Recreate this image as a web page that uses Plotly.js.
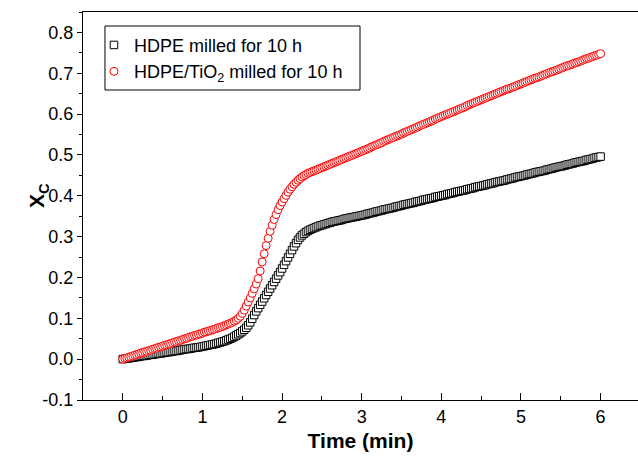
<!DOCTYPE html>
<html>
<head>
<meta charset="utf-8">
<script src="https://cdn.plot.ly/plotly-3.0.1.min.js"></script>
<style>html,body{margin:0;padding:0;background:#fff;}#chart{width:638px;height:457px;}</style>
</head>
<body>
<div id="chart"></div>
<script>
// Time (min)
var time = [
0.000,0.025,0.050,0.075,0.100,0.125,0.150,0.175,0.200,0.225,0.250,0.275,0.300,0.325,0.350,0.375,0.400,0.425,0.450,0.475,
0.500,0.525,0.550,0.575,0.600,0.625,0.650,0.675,0.700,0.725,0.750,0.775,0.800,0.825,0.850,0.875,0.900,0.925,0.950,0.975,
1.000,1.025,1.050,1.075,1.100,1.125,1.150,1.175,1.200,1.225,1.250,1.275,1.300,1.325,1.350,1.375,1.400,1.425,1.450,1.475,
1.500,1.525,1.550,1.575,1.600,1.625,1.650,1.675,1.700,1.725,1.750,1.775,1.800,1.825,1.850,1.875,1.900,1.925,1.950,1.975,
2.000,2.025,2.050,2.075,2.100,2.125,2.150,2.175,2.200,2.225,2.250,2.275,2.300,2.325,2.350,2.375,2.400,2.425,2.450,2.475,
2.500,2.525,2.550,2.575,2.600,2.625,2.650,2.675,2.700,2.725,2.750,2.775,2.800,2.825,2.850,2.875,2.900,2.925,2.950,2.975,
3.000,3.025,3.050,3.075,3.100,3.125,3.150,3.175,3.200,3.225,3.250,3.275,3.300,3.325,3.350,3.375,3.400,3.425,3.450,3.475,
3.500,3.525,3.550,3.575,3.600,3.625,3.650,3.675,3.700,3.725,3.750,3.775,3.800,3.825,3.850,3.875,3.900,3.925,3.950,3.975,
4.000,4.025,4.050,4.075,4.100,4.125,4.150,4.175,4.200,4.225,4.250,4.275,4.300,4.325,4.350,4.375,4.400,4.425,4.450,4.475,
4.500,4.525,4.550,4.575,4.600,4.625,4.650,4.675,4.700,4.725,4.750,4.775,4.800,4.825,4.850,4.875,4.900,4.925,4.950,4.975,
5.000,5.025,5.050,5.075,5.100,5.125,5.150,5.175,5.200,5.225,5.250,5.275,5.300,5.325,5.350,5.375,5.400,5.425,5.450,5.475,
5.500,5.525,5.550,5.575,5.600,5.625,5.650,5.675,5.700,5.725,5.750,5.775,5.800,5.825,5.850,5.875,5.900,5.925,5.950,5.975,
6.000];

// HDPE milled for 10 h
var hdpe = [
0.000,0.001,0.002,0.002,0.003,0.004,0.005,0.005,0.006,0.007,0.008,0.008,0.009,0.010,0.011,0.011,0.012,0.013,0.014,0.014,
0.015,0.016,0.017,0.017,0.018,0.019,0.020,0.020,0.021,0.022,0.023,0.024,0.025,0.025,0.026,0.027,0.028,0.028,0.029,0.030,
0.031,0.032,0.033,0.034,0.035,0.036,0.037,0.038,0.040,0.041,0.043,0.044,0.046,0.048,0.050,0.052,0.055,0.058,0.061,0.064,
0.068,0.072,0.077,0.083,0.090,0.099,0.108,0.117,0.125,0.133,0.141,0.149,0.157,0.165,0.173,0.181,0.189,0.197,0.205,0.213,
0.222,0.231,0.240,0.249,0.258,0.267,0.276,0.284,0.292,0.298,0.303,0.307,0.311,0.314,0.317,0.319,0.321,0.323,0.325,0.327,
0.328,0.330,0.331,0.333,0.334,0.336,0.337,0.338,0.339,0.340,0.341,0.343,0.344,0.345,0.346,0.347,0.348,0.349,0.350,0.351,
0.352,0.353,0.354,0.356,0.357,0.358,0.359,0.361,0.362,0.363,0.364,0.366,0.367,0.368,0.369,0.370,0.371,0.373,0.374,0.375,
0.376,0.378,0.379,0.380,0.381,0.382,0.383,0.385,0.386,0.387,0.388,0.390,0.391,0.392,0.393,0.394,0.395,0.397,0.398,0.399,
0.400,0.401,0.402,0.404,0.405,0.406,0.407,0.409,0.410,0.411,0.412,0.413,0.414,0.416,0.417,0.418,0.419,0.421,0.422,0.423,
0.424,0.425,0.426,0.428,0.429,0.430,0.431,0.433,0.434,0.435,0.436,0.437,0.438,0.440,0.441,0.442,0.443,0.445,0.446,0.447,
0.448,0.449,0.450,0.452,0.453,0.454,0.455,0.457,0.458,0.459,0.460,0.461,0.462,0.464,0.465,0.466,0.467,0.469,0.470,0.471,
0.472,0.473,0.474,0.476,0.477,0.478,0.479,0.481,0.482,0.483,0.484,0.485,0.486,0.488,0.489,0.490,0.491,0.493,0.494,0.495,
0.496];

// HDPE/TiO2 milled for 10 h
var hdpeTiO2 = [
0.000,0.002,0.003,0.005,0.006,0.008,0.010,0.011,0.013,0.015,0.016,0.018,0.019,0.021,0.022,0.024,0.026,0.027,0.029,0.030,
0.032,0.034,0.035,0.037,0.038,0.040,0.042,0.043,0.045,0.046,0.048,0.050,0.051,0.053,0.055,0.056,0.058,0.059,0.061,0.062,
0.064,0.066,0.067,0.069,0.070,0.072,0.073,0.075,0.077,0.078,0.080,0.082,0.084,0.086,0.088,0.090,0.093,0.096,0.100,0.105,
0.112,0.120,0.130,0.140,0.150,0.161,0.172,0.184,0.197,0.216,0.238,0.258,0.278,0.296,0.313,0.328,0.342,0.354,0.366,0.376,
0.385,0.393,0.401,0.409,0.416,0.422,0.428,0.433,0.438,0.442,0.446,0.449,0.452,0.455,0.457,0.459,0.461,0.463,0.465,0.467,
0.469,0.471,0.473,0.475,0.477,0.479,0.481,0.483,0.485,0.487,0.489,0.491,0.493,0.495,0.497,0.499,0.501,0.503,0.505,0.507,
0.509,0.511,0.513,0.515,0.517,0.520,0.522,0.524,0.526,0.528,0.530,0.533,0.535,0.537,0.539,0.541,0.543,0.545,0.547,0.549,
0.551,0.554,0.556,0.558,0.560,0.562,0.564,0.566,0.568,0.571,0.573,0.575,0.577,0.579,0.581,0.583,0.585,0.588,0.590,0.592,
0.594,0.596,0.598,0.600,0.602,0.604,0.606,0.608,0.610,0.612,0.614,0.616,0.618,0.621,0.623,0.625,0.627,0.629,0.631,0.633,
0.635,0.637,0.639,0.641,0.643,0.645,0.647,0.649,0.651,0.653,0.655,0.657,0.659,0.661,0.662,0.664,0.666,0.668,0.670,0.672,
0.674,0.676,0.678,0.680,0.682,0.684,0.686,0.688,0.689,0.691,0.693,0.695,0.697,0.699,0.701,0.703,0.704,0.706,0.708,0.710,
0.712,0.714,0.716,0.718,0.719,0.721,0.723,0.725,0.726,0.728,0.730,0.732,0.734,0.736,0.737,0.739,0.741,0.743,0.744,0.746,
0.748];

var seriesNames = ["HDPE milled for 10 h", "HDPE/TiO<sub>2</sub> milled for 10 h"];

var xTickVals = [0, 1, 2, 3, 4, 5, 6];
var xTickText = ["0", "1", "2", "3", "4", "5", "6"];
var yTickVals = [-0.1, 0.0, 0.1, 0.2, 0.3, 0.4, 0.5, 0.6, 0.7, 0.8];
var yTickText = ["-0.1", "0.0", "0.1", "0.2", "0.3", "0.4", "0.5", "0.6", "0.7", "0.8"];

var FONT = "Liberation Sans, Arial, sans-serif";

var traces = [
  {
    x: time, y: hdpe, name: seriesNames[0], type: "scatter", mode: "markers",
    marker: {symbol: "square", size: 7.5, color: "#ffffff", line: {color: "#000000", width: 1}}
  },
  {
    x: time, y: hdpeTiO2, name: seriesNames[1], type: "scatter", mode: "markers",
    marker: {symbol: "circle", size: 8, color: "#ffffff", line: {color: "#ff0000", width: 1}}
  }
];

var layout = {
  width: 638, height: 457,
  margin: {l: 83, r: 0, t: 12, b: 57, pad: 0},
  paper_bgcolor: "#ffffff", plot_bgcolor: "#ffffff",
  font: {family: FONT, color: "#000000", size: 18},
  showlegend: true,
  legend: {
    x: 0.0198, y: 0.962, xanchor: "left", yanchor: "top",
    bgcolor: "rgba(0,0,0,0)", borderwidth: 0,
    font: {family: FONT, size: 18, color: "#000000"},
    tracegroupgap: 0, itemwidth: 30
  },
  shapes: [
    {type: "rect", xref: "paper", yref: "paper", x0: 0.0396, x1: 0.4991, y0: 0.799, y1: 0.9639,
     line: {color: "#000000", width: 1}, fillcolor: "#ffffff", layer: "below"}
  ],
  annotations: [
    {text: "X<sub>C</sub>", xref: "paper", yref: "paper", x: -0.081, y: 0.526,
     xanchor: "center", yanchor: "middle", textangle: -90, showarrow: false,
     font: {family: FONT, size: 21, weight: "bold", color: "#000000"}}
  ],
  xaxis: {
    range: [-0.5, 6.47], showgrid: false, zeroline: false,
    showline: true, linecolor: "#000000", linewidth: 1, mirror: true,
    tickmode: "array", tickvals: xTickVals, ticktext: xTickText,
    ticks: "inside", ticklen: 7, tickwidth: 1, tickcolor: "#000000",
    minor: {tickmode: "linear", tick0: -0.5, dtick: 0.5, ticks: "inside", ticklen: 4, tickwidth: 1, tickcolor: "#000000", showgrid: false},
    tickfont: {family: FONT, size: 18},
    title: {text: "Time (min)", font: {family: FONT, size: 21, weight: "bold"}, standoff: 7}
  },
  yaxis: {
    range: [-0.1, 0.85], showgrid: false, zeroline: false,
    showline: true, linecolor: "#000000", linewidth: 1, mirror: false,
    tickmode: "array", tickvals: yTickVals, ticktext: yTickText,
    ticks: "outside", ticklen: 5, tickwidth: 1, tickcolor: "#000000",
    minor: {tickmode: "linear", tick0: -0.1, dtick: 0.05, ticks: "outside", ticklen: 3, tickwidth: 1, tickcolor: "#000000", showgrid: false},
    tickfont: {family: FONT, size: 18}
  }
};

Plotly.newPlot("chart", traces, layout, {staticPlot: true, displayModeBar: false});
</script>
</body>
</html>
